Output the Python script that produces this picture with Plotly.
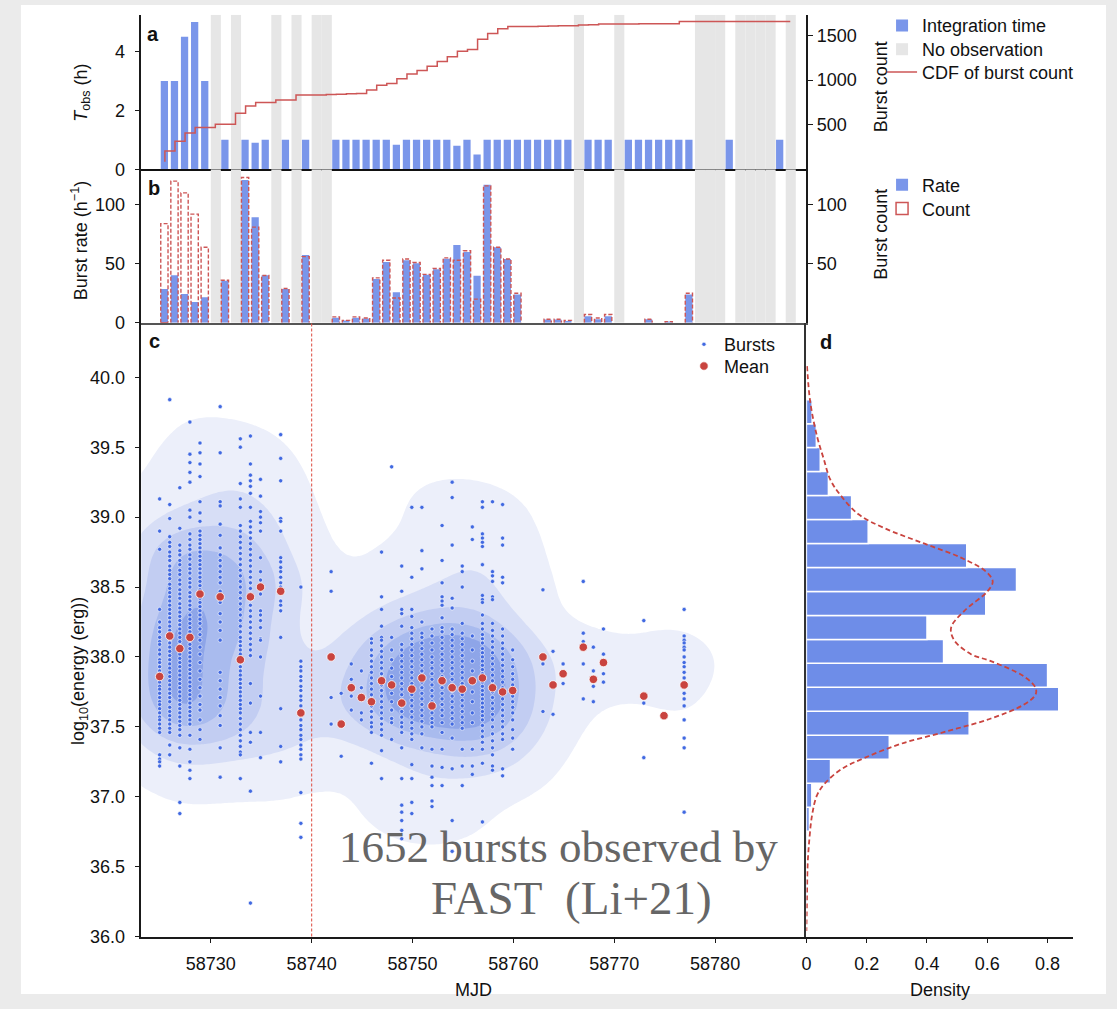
import numpy as np
import plotly.graph_objects as go

W, H = 1117, 1009

# ---------------- panel a : observing log ----------------
obs_days = [58725, 58726, 58727, 58728, 58729, 58731, 58733, 58734, 58735, 58737, 58739,
            58742, 58743, 58744, 58745, 58746, 58747, 58748, 58749, 58750, 58751, 58752,
            58753, 58754, 58755, 58756, 58757, 58758, 58759, 58760, 58761, 58762, 58763,
            58764, 58765, 58767, 58768, 58769, 58771, 58772, 58773, 58774, 58775, 58776,
            58777, 58781, 58786]
t_obs_hours = [3.0, 3.0, 4.5, 5.0, 3.0, 1.0, 1.0, 0.9, 1.0, 1.0, 1.0,
               1.0, 1.0, 1.0, 1.0, 1.0, 1.0, 0.83, 1.0, 1.0, 1.0, 1.0,
               1.0, 0.8, 1.0, 0.5, 1.0, 1.0, 1.0, 1.0, 1.0, 1.0, 1.0,
               1.0, 1.0, 1.0, 1.0, 1.0, 1.0, 1.0, 1.0, 1.0, 1.0, 1.0,
               1.0, 1.0, 1.0]
no_obs_days = [58730, 58732, 58736, 58738, 58740, 58741, 58766, 58770,
               58778, 58779, 58780, 58782, 58783, 58784, 58785, 58787]

# ---------------- panel b : daily rate / count ----------------
burst_days = [58725, 58726, 58727, 58728, 58729, 58731, 58733, 58734, 58735, 58737, 58739,
              58742, 58743, 58744, 58745, 58746, 58747, 58748, 58749, 58750, 58751, 58752,
              58753, 58754, 58755, 58756, 58757, 58758, 58759, 58760, 58763, 58764, 58765,
              58767, 58768, 58769, 58773, 58775, 58777]
burst_rate = [28.6, 40.3, 24.4, 17.6, 21.6, 35.6, 121.0, 89.4, 40.3, 28.6, 57.4,
              4.2, 2.0, 4.2, 3.6, 37.0, 51.5, 25.8, 53.0, 50.4, 40.6, 45.4,
              54.3, 65.8, 60.0, 39.8, 117.0, 64.0, 54.0, 24.0, 2.8, 2.8, 1.5,
              5.6, 3.0, 5.6, 3.0, 1.0, 24.0]
burst_count = [84, 120, 110, 92, 64, 36, 123, 81, 40, 29, 56,
               5, 2, 5, 4, 38, 53, 21, 54, 51, 41, 46,
               55, 53, 61, 20, 116, 64, 54, 25, 3, 3, 2,
               7, 4, 7, 3, 1, 25]

# ---------------- panel c : burst energies (log10 erg) per day ----------------
burst_energy = [
    [39.13, 38.90, 38.77, 38.34, 38.25, 38.21, 38.18, 38.14, 38.11, 38.09, 38.05, 38.02, 37.98, 37.96,
     37.93, 37.90, 37.88, 37.85, 37.82, 37.79, 37.77, 37.74, 37.71, 37.68, 37.66, 37.63, 37.60, 37.57,
     37.55, 37.52, 37.49, 37.46, 37.30, 37.27, 37.25, 37.22],
    [39.84, 39.09, 38.99, 38.86, 38.82, 38.79, 38.75, 38.72, 38.69, 38.65, 38.62, 38.59, 38.56, 38.52,
     38.49, 38.46, 38.43, 38.40, 38.37, 38.34, 38.31, 38.28, 38.25, 38.22, 38.19, 38.16, 38.13, 38.10,
     38.07, 38.04, 38.01, 37.98, 37.95, 37.92, 37.89, 37.86, 37.83, 37.80, 37.77, 37.74, 37.71, 37.68,
     37.64, 37.61, 37.58, 37.55, 37.52, 37.49, 37.46, 37.37, 37.30],
    [39.21, 38.92, 38.80, 38.76, 38.73, 38.69, 38.66, 38.62, 38.59, 38.55, 38.52, 38.48, 38.45, 38.42,
     38.38, 38.35, 38.32, 38.29, 38.26, 38.23, 38.20, 38.17, 38.14, 38.11, 38.08, 38.05, 38.02, 37.99,
     37.96, 37.93, 37.90, 37.87, 37.84, 37.81, 37.78, 37.75, 37.72, 37.69, 37.66, 37.63, 37.60, 37.57,
     37.54, 37.51, 37.48, 37.44, 37.35, 37.22, 36.96, 36.88],
    [39.68, 39.45, 39.39, 39.32, 39.25, 39.05, 39.00, 38.88, 38.84, 38.80, 38.77, 38.73, 38.70, 38.66,
     38.63, 38.60, 38.56, 38.53, 38.50, 38.46, 38.43, 38.40, 38.37, 38.34, 38.30, 38.27, 38.24, 38.21,
     38.18, 38.15, 38.12, 38.09, 38.06, 38.03, 38.00, 37.97, 37.94, 37.91, 37.88, 37.85, 37.82, 37.79,
     37.76, 37.73, 37.70, 37.67, 37.64, 37.61, 37.58, 37.55, 37.52, 37.44, 37.34, 37.25, 37.19, 37.13],
    [39.53, 39.46, 39.38, 39.29, 39.11, 39.03, 38.97, 38.90, 38.87, 38.84, 38.81, 38.78, 38.75, 38.72,
     38.69, 38.66, 38.63, 38.60, 38.57, 38.54, 38.51, 38.48, 38.45, 38.42, 38.39, 38.36, 38.33, 38.30,
     38.27, 38.24, 38.20, 38.16, 38.12, 38.07, 38.02, 37.96, 37.90, 37.84, 37.78, 37.72, 37.66, 37.62,
     37.55, 37.48, 37.41],
    [39.79, 39.46, 39.11, 39.08, 38.95, 38.87, 38.78, 38.73, 38.69, 38.65, 38.61, 38.57, 38.53, 38.47,
     38.43, 38.39, 38.31, 38.25, 38.19, 38.12, 37.89, 37.83, 37.77, 37.71, 37.65, 37.58, 37.51, 37.35,
     37.14],
    [39.56, 39.50, 39.24, 39.13, 39.07, 38.94, 38.90, 38.86, 38.82, 38.78, 38.74, 38.70, 38.66, 38.62,
     38.58, 38.54, 38.50, 38.46, 38.42, 38.38, 38.34, 38.30, 38.26, 38.22, 38.18, 38.14, 38.11, 38.08,
     38.05, 38.02, 37.99, 37.96, 37.93, 37.90, 37.87, 37.84, 37.81, 37.78, 37.75, 37.72, 37.69, 37.66,
     37.63, 37.60, 37.56, 37.52, 37.48, 37.44, 37.40, 37.36, 37.32, 37.30, 37.13],
    [39.58, 39.38, 39.30, 39.26, 39.22, 39.17, 39.07, 38.97, 38.93, 38.89, 38.85, 38.81, 38.77, 38.73,
     38.69, 38.65, 38.61, 38.57, 38.53, 38.49, 38.45, 38.41, 38.37, 38.33, 38.29, 38.25, 38.21, 38.17,
     38.13, 38.09, 38.05, 38.01, 37.81, 37.67, 37.46, 37.39, 37.04, 36.24],
    [39.27, 39.15, 39.04, 39.00, 38.96, 38.90, 38.71, 38.61, 38.55, 38.50, 38.45, 38.33, 38.30, 38.26,
     38.21, 38.13, 38.12, 38.00, 37.72, 37.46, 37.28],
    [39.59, 39.42, 39.26, 38.99, 38.97, 38.90, 38.71, 38.68, 38.64, 38.61, 38.57, 38.53, 38.50, 38.47,
     38.40, 38.37, 38.33, 38.14, 37.63, 37.36, 37.25],
    [38.50, 37.97, 37.93, 37.90, 37.86, 37.83, 37.79, 37.76, 37.72, 37.69, 37.65, 37.62, 37.58, 37.55,
     37.51, 37.48, 37.44, 37.41, 37.37, 37.34, 37.30, 37.27, 37.03, 36.81, 36.71],
    [38.61, 38.47, 37.71, 37.52],
    [37.74, 37.29],
    [37.95, 37.84, 37.72, 37.62],
    [37.90, 37.78, 37.60, 37.55],
    [38.13, 38.10, 38.05, 38.01, 37.97, 37.93, 37.89, 37.85, 37.81, 37.77, 37.73, 37.69, 37.65, 37.61,
     37.57, 37.53, 37.50, 37.46, 37.24],
    [38.75, 38.43, 38.34, 38.22, 38.14, 38.12, 38.08, 38.04, 38.00, 37.96, 37.92, 37.88, 37.84, 37.80,
     37.76, 37.72, 37.68, 37.64, 37.60, 37.56, 37.52, 37.48, 37.44, 37.33, 37.13],
    [39.36, 38.14, 38.05, 37.98, 37.92, 37.86, 37.80, 37.74, 37.68, 37.62, 37.56, 37.53, 37.41],
    [38.65, 38.47, 38.34, 38.31, 38.22, 38.09, 38.05, 38.01, 37.97, 37.93, 37.89, 37.85, 37.81, 37.77,
     37.73, 37.69, 37.65, 37.61, 37.57, 37.53, 37.50, 37.46, 37.35, 37.13, 36.94, 36.89, 36.83, 36.76,
     36.70],
    [39.07, 38.57, 38.34, 38.29, 38.21, 38.17, 38.13, 38.09, 38.05, 38.01, 37.97, 37.93, 37.89, 37.85,
     37.81, 37.77, 37.73, 37.69, 37.65, 37.61, 37.57, 37.53, 37.49, 37.45, 37.41, 37.23, 37.13, 36.96,
     36.88],
    [39.07, 38.76, 38.63, 38.25, 38.17, 38.14, 38.10, 38.06, 38.02, 37.98, 37.94, 37.90, 37.86, 37.82,
     37.78, 37.74, 37.70, 37.66, 37.62, 37.58, 37.54, 37.50, 37.45, 37.35],
    [38.20, 38.15, 38.10, 38.05, 38.00, 37.96, 37.92, 37.88, 37.84, 37.80, 37.76, 37.72, 37.68, 37.64,
     37.60, 37.56, 37.53, 37.50, 37.34, 37.22, 37.14, 37.08, 36.97, 36.93],
    [38.94, 38.69, 38.53, 38.43, 38.40, 38.37, 38.28, 38.21, 38.18, 38.14, 38.10, 38.06, 38.02, 37.98,
     37.94, 37.90, 37.86, 37.82, 37.78, 37.74, 37.70, 37.66, 37.62, 37.58, 37.53, 37.46, 37.34, 37.21,
     37.08],
    [39.25, 39.14, 38.80, 38.42, 38.35, 38.20, 38.16, 38.12, 38.08, 38.04, 38.00, 37.96, 37.92, 37.88,
     37.84, 37.80, 37.76, 37.72, 37.68, 37.64, 37.60, 37.56, 37.52, 37.42, 37.20, 36.83, 36.61],
    [38.65, 38.61, 38.50, 38.24, 38.17, 38.13, 38.09, 38.05, 38.01, 37.97, 37.93, 37.89, 37.85, 37.81,
     37.77, 37.73, 37.69, 37.65, 37.61, 37.57, 37.53, 37.49, 37.34, 37.22, 37.08],
    [38.93, 38.84, 38.15, 38.05, 37.97, 37.90, 37.82, 37.75, 37.68, 37.60, 37.53, 37.34, 37.22, 37.16],
    [39.11, 39.07, 38.88, 38.85, 38.82, 38.79, 38.66, 38.44, 38.41, 38.39, 38.30, 38.24, 38.20, 38.16,
     38.13, 38.10, 38.06, 38.03, 38.00, 37.97, 37.94, 37.91, 37.88, 37.85, 37.82, 37.79, 37.76, 37.73,
     37.70, 37.67, 37.64, 37.61, 37.58, 37.55, 37.51, 37.47, 37.43, 37.39, 37.34, 37.24, 36.82],
    [39.11, 38.61, 38.58, 38.54, 38.43, 38.41, 38.24, 38.19, 38.15, 38.11, 38.07, 38.03, 37.99, 37.95,
     37.91, 37.87, 37.83, 37.79, 37.75, 37.71, 37.67, 37.63, 37.59, 37.55, 37.50, 37.45, 37.40, 37.35,
     37.30, 37.22, 37.19],
    [39.09, 38.85, 38.80, 38.57, 38.53, 38.20, 38.15, 38.10, 38.06, 38.02, 37.98, 37.94, 37.90, 37.86,
     37.82, 37.78, 37.74, 37.70, 37.66, 37.62, 37.58, 37.54, 37.50, 37.45, 37.41, 37.20, 37.15],
    [38.05, 37.98, 37.93, 37.88, 37.84, 37.80, 37.76, 37.72, 37.68, 37.64, 37.60, 37.55, 37.48, 37.42,
     37.34],
    [38.48, 37.95, 37.61],
    [38.04, 37.78, 37.59],
    [37.95, 37.81],
    [38.54, 38.17, 38.11, 38.06, 37.95, 37.70],
    [38.07, 37.90, 37.79, 37.68],
    [38.20, 38.02, 37.95, 37.88, 37.82],
    [38.26, 37.67, 37.28],
    [37.58],
    [38.34, 38.15, 38.12, 38.10, 38.07, 38.05, 38.00, 37.96, 37.93, 37.89, 37.85, 37.80, 37.74, 37.70,
     37.65, 37.55, 37.42, 37.35, 36.89],
]
mean_energy = [37.86, 38.15, 38.06, 38.14, 38.45, 38.43, 37.98, 38.43, 38.50, 38.47, 37.60,
               38.00, 37.52, 37.78, 37.71, 37.68, 37.83, 37.80, 37.67, 37.77, 37.85, 37.65,
               37.83, 37.78, 37.77, 37.83, 37.85, 37.78, 37.75, 37.76, 38.00, 37.80, 37.88,
               38.07, 37.84, 37.96, 37.72, 37.58, 37.80]
DIVIDE_MJD = 58740

# ---------------- panel d : energy distribution ----------------
hist_density = [0.0035, 0.0, 0.0035, 0.010, 0.018, 0.080, 0.275, 0.540, 0.837, 0.800, 0.455,
                0.400, 0.595, 0.697, 0.532, 0.205, 0.150, 0.073, 0.046, 0.033, 0.019]
kde_energy = [40.08, 39.82, 39.58, 39.42, 39.27, 39.16, 39.02, 38.92, 38.81, 38.71, 38.61, 38.54,
              38.47, 38.33, 38.21, 38.12, 38.02, 37.97, 37.86, 37.78, 37.73, 37.66, 37.56, 37.47,
              37.38, 37.28, 37.20, 37.10, 37.01, 36.87, 36.70, 36.51, 36.28, 36.04]
kde_density = [0.002, 0.013, 0.035, 0.057, 0.079, 0.112, 0.173, 0.260, 0.392, 0.513, 0.596, 0.618,
               0.601, 0.524, 0.480, 0.490, 0.546, 0.612, 0.722, 0.760, 0.760, 0.722, 0.612, 0.469,
               0.315, 0.195, 0.118, 0.063, 0.035, 0.019, 0.010, 0.004, 0.002, 0.0]

# ---------------- styling ----------------
SANS = "Liberation Sans, Arial, Helvetica, sans-serif"
SERIF = "Liberation Serif, Times New Roman, serif"
BLUE = "#4169e1"
BAR_BLUE = "rgba(65,105,225,0.70)"
HIST_BLUE = "rgba(65,105,225,0.76)"
GRAY_BAND = "#e6e6e6"
RED = "#cd5656"
MEAN_RED = "#c9443f"
TXT = "#111111"

BAR_OFF, BAR_W = 0.40, 0.72
PT_OFF = -0.07
CDF_OFF = 0.45
XR = [58723.12, 58789.05]
A_TOP, A2_TOP, B_TOP = 5.244, 1733, 130.0
YC = [36.0, 40.39]
XD = [0, 0.885]


def px_x(p):
    return p / W


def px_y(p):
    return 1 - p / H


XDOM = [px_x(137), px_x(805)]
DDOM = [px_x(805), px_x(1073)]
ADOM = [px_y(171), px_y(15)]
BDOM = [px_y(326), px_y(171)]
CDOM = [px_y(946), px_y(326)]

fig = go.Figure()

# ---- panel a ----
fig.add_trace(go.Bar(x=[d + 0.5 for d in no_obs_days], y=[A_TOP] * len(no_obs_days), width=1.0,
                     marker=dict(color=GRAY_BAND, line=dict(width=0)), name="No observation",
                     legend="legend2", xaxis="x", yaxis="y", hoverinfo="skip"))
fig.add_trace(go.Bar(x=[d + BAR_OFF for d in obs_days], y=t_obs_hours, width=BAR_W,
                     marker=dict(color=BAR_BLUE, line=dict(width=0)), name="Integration time",
                     legend="legend", xaxis="x", yaxis="y"))
count_by_day = dict(zip(burst_days, burst_count))
cdf_days = list(range(burst_days[0], no_obs_days[-1] + 1))
cdf_vals = np.cumsum([count_by_day.get(d, 0) for d in cdf_days])
fig.add_trace(go.Scatter(x=[d + CDF_OFF for d in cdf_days], y=cdf_vals, mode="lines",
                         line=dict(color=RED, width=1.5, shape="vh"), name="CDF of burst count",
                         legend="legend3", xaxis="x", yaxis="y2"))

# ---- panel b ----
fig.add_trace(go.Bar(x=[d + 0.5 for d in no_obs_days], y=[B_TOP] * len(no_obs_days), width=1.0,
                     marker=dict(color=GRAY_BAND, line=dict(width=0)), showlegend=False,
                     xaxis="x2", yaxis="y3", hoverinfo="skip"))
fig.add_trace(go.Bar(x=[d + BAR_OFF for d in burst_days], y=burst_rate, width=BAR_W,
                     marker=dict(color=BAR_BLUE, line=dict(width=0)), name="Rate",
                     legend="legend4", xaxis="x2", yaxis="y3"))
ox, oy = [], []
for d, c in zip(burst_days, burst_count):
    x0, x1 = d + BAR_OFF - BAR_W / 2, d + BAR_OFF + BAR_W / 2
    ox += [x0, x0, x1, x1, None]
    oy += [0, c, c, 0, None]
fig.add_trace(go.Scatter(x=ox, y=oy, mode="lines", line=dict(color=RED, width=1.4, dash="4px,2px"),
                         name="Count", legend="legend5", xaxis="x2", yaxis="y4", hoverinfo="skip",
                         showlegend=False))
fig.add_trace(go.Bar(x=[burst_days[0] + BAR_OFF], y=[0], width=BAR_W,
                     marker=dict(color="rgba(0,0,0,0)", line=dict(color=RED, width=1.5)),
                     name="Count", legend="legend5", xaxis="x2", yaxis="y4", hoverinfo="skip"))

# ---- panel c : KDE contours computed from the bursts ----
pxs, pys, pws = [], [], []
for d, c, es in zip(burst_days, burst_count, burst_energy):
    for e in es:
        pxs.append(d + PT_OFF)
        pys.append(e)
        pws.append(c / len(es))
P = np.array([pxs, pys])
w = np.array(pws)
w = w / w.sum()
mu = P @ w
dif = P - mu[:, None]
cov = (dif * w) @ dif.T / (1 - np.sum(w ** 2))
factor = float(sum(burst_count)) ** (-1.0 / 6.0)
inv = np.linalg.inv(cov * factor ** 2)
gx = np.linspace(58712, 58800, 221)
gy = np.linspace(35.3, 41.1, 233)
GX, GY = np.meshgrid(gx, gy)
G = np.stack([GX.ravel(), GY.ravel()], axis=1)
dens = np.zeros(G.shape[0])
for s in range(0, G.shape[0], 4000):
    g = G[s:s + 4000]
    dx = g[:, 0:1] - P[0][None, :]
    dy = g[:, 1:2] - P[1][None, :]
    q = inv[0, 0] * dx * dx + 2 * inv[0, 1] * dx * dy + inv[1, 1] * dy * dy
    dens[s:s + 4000] = np.exp(-0.5 * q) @ w
order = np.argsort(dens)[::-1]
cm = np.cumsum(dens[order])
cm /= cm[-1]
frac = np.empty_like(cm)
frac[order] = cm
zprop = (1 - frac).reshape(GX.shape)

C1, C2, C3, C4, C5 = "#eceffa", "#d7def6", "#c2cdf2", "#a9bbee", "#8ea5e8"
cscale = [[0.0, "rgba(255,255,255,0)"], [0.1, "rgba(255,255,255,0)"],
          [0.1, C1], [0.3, C1], [0.3, C2], [0.5, C2], [0.5, C3], [0.7, C3],
          [0.7, C4], [0.9, C4], [0.9, C5], [1.0, C5]]
fig.add_trace(go.Contour(x=gx, y=gy, z=zprop, colorscale=cscale, showscale=False,
                         contours=dict(start=0.05, end=0.81, size=0.19, coloring="fill", showlines=False),
                         line=dict(width=0, smoothing=1.0), hoverinfo="skip", showlegend=False,
                         xaxis="x3", yaxis="y5"))
fig.add_trace(go.Scatter(x=pxs, y=pys, mode="markers", name="Bursts",
                         marker=dict(color=BLUE, size=4.2, line=dict(color="white", width=0.6)),
                         legend="legend6", xaxis="x3", yaxis="y5"))
fig.add_trace(go.Scatter(x=[d + PT_OFF for d in burst_days], y=mean_energy, mode="markers", name="Mean",
                         marker=dict(color=MEAN_RED, size=8.5, line=dict(color="white", width=0.8)),
                         legend="legend7", xaxis="x3", yaxis="y5"))

# ---- panel d ----
e_lo = min(min(es) for es in burst_energy)
e_hi = max(max(es) for es in burst_energy)
edges = np.linspace(e_lo, e_hi, len(hist_density) + 1)
centers = 0.5 * (edges[:-1] + edges[1:])
fig.add_trace(go.Bar(y=centers, x=hist_density, orientation="h", width=edges[1] - edges[0],
                     marker=dict(color=HIST_BLUE, line=dict(color="white", width=1.5)),
                     showlegend=False, xaxis="x4", yaxis="y6"))
fig.add_trace(go.Scatter(x=kde_density, y=kde_energy, mode="lines",
                         line=dict(color=MEAN_RED, width=1.8, dash="5px,3px", shape="spline"),
                         showlegend=False, xaxis="x4", yaxis="y6"))

# ---------------- axes ----------------
tickfont = dict(family=SANS, size=18, color=TXT)
common_y = dict(showgrid=False, zeroline=False, showline=True, linecolor="#1a1a1a", linewidth=1.5,
                ticks="outside", ticklen=5, tickwidth=1.3, tickcolor="#1a1a1a", tickfont=tickfont)
LEFT_PAD = dict(ticklabelstandoff=6)
BOTTOM_PAD = dict(ticklabelstandoff=5)


def leg(x_text, y_center):
    return dict(x=px_x(x_text - 41), y=px_y(y_center), xanchor="left", yanchor="middle",
                bgcolor="rgba(0,0,0,0)", font=dict(family=SANS, size=18, color=TXT),
                itemwidth=30, tracegroupgap=0)


layout = dict(
    width=W, height=H, autosize=False, margin=dict(l=0, r=0, t=0, b=0),
    paper_bgcolor="#ebebeb", plot_bgcolor="rgba(0,0,0,0)", barmode="overlay", hovermode=False,
    font=dict(family=SANS, size=18, color=TXT),
    xaxis=dict(domain=XDOM, range=XR, anchor="y", showgrid=False, zeroline=False, showline=True,
               linecolor="#111", linewidth=2.2, showticklabels=False, ticks=""),
    yaxis=dict(domain=ADOM, range=[0, A_TOP], anchor="x", tickvals=[0, 2, 4], **common_y, **LEFT_PAD),
    yaxis2=dict(overlaying="y", side="right", anchor="x", range=[0, A2_TOP],
                tickvals=[500, 1000, 1500], **common_y),
    xaxis2=dict(domain=XDOM, range=XR, anchor="y3", showgrid=False, zeroline=False, showline=True,
                linecolor="#555", linewidth=1.5, showticklabels=False, ticks=""),
    yaxis3=dict(domain=BDOM, range=[0, B_TOP], anchor="x2", tickvals=[0, 50, 100], **common_y, **LEFT_PAD),
    yaxis4=dict(overlaying="y3", side="right", anchor="x2", range=[0, B_TOP], tickvals=[50, 100], **common_y),
    xaxis3=dict(domain=XDOM, range=XR, anchor="y5", tickvals=[58730, 58740, 58750, 58760, 58770, 58780],
                tickformat="d", **common_y, **BOTTOM_PAD),
    yaxis5=dict(domain=CDOM, range=YC, anchor="x3", tickvals=[36.0, 36.5, 37.0, 37.5, 38.0, 38.5, 39.0, 39.5, 40.0],
                tickformat=".1f", **common_y, **LEFT_PAD),
    xaxis4=dict(domain=DDOM, range=XD, anchor="y6", tickvals=[0, 0.2, 0.4, 0.6, 0.8],
                ticktext=["0", "0.2", "0.4", "0.6", "0.8"], **common_y, **BOTTOM_PAD),
    yaxis6=dict(domain=CDOM, range=YC, anchor="x4", showgrid=False, zeroline=False, showline=True,
                linecolor="#333", linewidth=1.5, showticklabels=False, ticks=""),
    legend=leg(922, 26),
    legend2=leg(922, 50),
    legend3=leg(922, 73),
    legend4=leg(922, 187),
    legend5=leg(922, 211),
    legend6=leg(723, 348),
    legend7=leg(723, 370),
)
fig.update_layout(**layout)


def ann(text, x, y, size=18, angle=0, color=TXT, family=SANS, xanchor="center", yanchor="middle"):
    return dict(text=text, x=px_x(x), y=px_y(y), xref="paper", yref="paper", showarrow=False,
                font=dict(size=size, color=color, family=family), textangle=angle,
                xanchor=xanchor, yanchor=yanchor)


annotations = [
    ann("<b>a</b>", 149, 34, size=20),
    ann("<b>b</b>", 150, 190, size=20),
    ann("<b>c</b>", 150, 344, size=20),
    ann("<b>d</b>", 825, 345, size=20),
    ann("<i>T</i><sub>obs</sub> (h)", 77, 94, angle=-90),
    ann("Burst rate (h<sup>−1</sup>)", 75, 243, angle=-90),
    ann("log<sub>10</sub>(energy (erg))", 75, 678, angle=-90),
    ann("Burst count", 880, 88, angle=-90),
    ann("Burst count", 880, 237, angle=-90),
    ann("MJD", 471, 1000),
    ann("Density", 939, 1000),
    ann("1652 bursts observed by", 556, 855, size=45, color="#666666", family=SERIF),
    ann("FAST &nbsp;(Li+21)", 569, 907, size=47, color="#666666", family=SERIF),
]
fig.update_layout(annotations=annotations)

shapes = [
    dict(type="rect", xref="paper", yref="paper", x0=px_x(16), x1=px_x(1106), y0=px_y(1004), y1=px_y(5),
         fillcolor="white", line=dict(width=0), layer="below"),
    dict(type="line", xref="x3", yref="y5 domain", x0=DIVIDE_MJD, x1=DIVIDE_MJD, y0=0, y1=1,
         line=dict(color="#e05a50", width=1.1, dash="3px,2px")),
]
fig.update_layout(shapes=shapes)

fig.write_html("out.html")
